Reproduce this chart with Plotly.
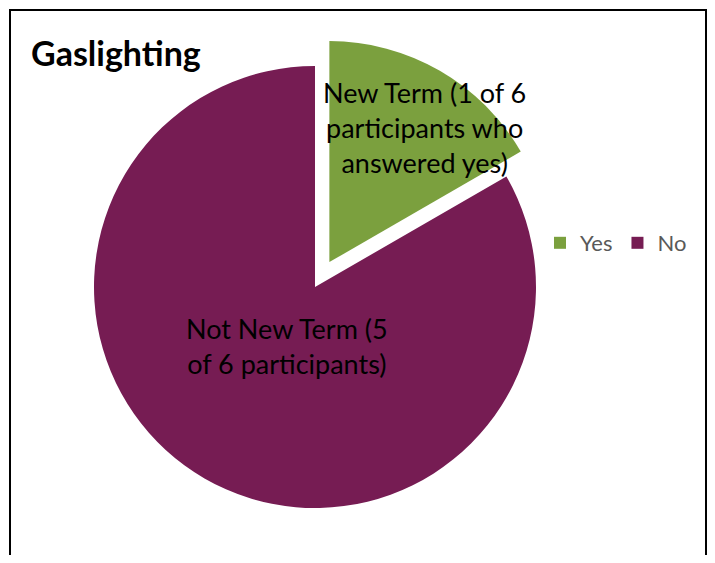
import plotly.graph_objects as go

# data
categories = ["Yes", "No"]
participants = [1, 5]
slice_labels = ["New Term (1 of 6<br>participants who<br>answered yes)",
                "Not New Term (5<br>of 6 participants)"]
slice_colors = ["#7ba03e", "#761c53"]
chart_title = "Gaslighting"

# the page body adds an 8px margin on every side, so the figure is drawn
# smaller (no scrollbars) and reference pixel positions are shifted by OFF
OFF = 8
W, H = 715 - 2 * OFF, 563 - 2 * OFF
FONT = "Lato, Open Sans, sans-serif"


def px(x):
    return (x - OFF) / W


def py(y):
    return 1 - (y - OFF) / H


cx, cy = 315, 287          # pie centre in reference pixels
pull = 0.13
box = 2 * 221 * (1 + pull)  # domain size so the unpulled radius is ~221px

fig = go.Figure()
fig.add_trace(go.Pie(
    labels=categories,
    values=participants,
    marker=dict(colors=slice_colors, line=dict(width=0)),
    pull=[pull, 0],
    sort=False,
    direction="clockwise",
    rotation=0,
    textinfo="none",
    hoverinfo="label+value",
    domain=dict(x=[px(cx - box / 2), px(cx + box / 2)],
                y=[py(cy + box / 2), py(cy - box / 2)]),
))

# slice labels
label_pos = [(425, 128), (287, 346)]
for txt, (lx, ly) in zip(slice_labels, label_pos):
    fig.add_annotation(x=px(lx), y=py(ly), xref="paper", yref="paper",
                       xanchor="center", yanchor="middle",
                       text=txt, showarrow=False, align="center",
                       font=dict(family=FONT, size=27, color="black"))

fig.add_annotation(x=px(29), y=py(52), xref="paper", yref="paper",
                   xanchor="left", yanchor="middle",
                   text="<b>" + chart_title + "</b>", showarrow=False,
                   font=dict(family=FONT, size=34, color="black"))

# chart border
fig.add_shape(type="rect", xref="paper", yref="paper",
              x0=px(10), x1=px(706), y0=-0.05, y1=py(10),
              line=dict(color="black", width=2), layer="above")

fig.update_layout(
    width=W, height=H,
    margin=dict(l=0, r=0, t=0, b=0),
    paper_bgcolor="white",
    plot_bgcolor="white",
    showlegend=True,
    legend=dict(orientation="h", x=px(540), y=py(243),
                xanchor="left", yanchor="middle",
                font=dict(family=FONT, size=22, color="#595959"),
                itemwidth=30, traceorder="normal"),
)

fig.write_html("out.html")
